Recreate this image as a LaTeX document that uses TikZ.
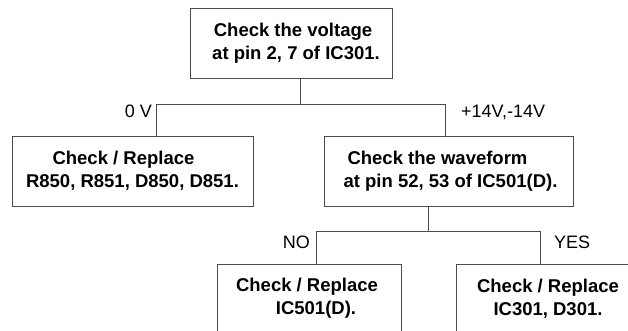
\documentclass[tikz,border=0pt]{standalone}
\usepackage{fontspec}
\setmainfont{Liberation Sans}
\begin{document}
\begin{tikzpicture}[x=1pt,y=-1pt,
  box/.style={draw=black!70, line width=0.9pt, inner sep=0pt, align=center,
    font=\fontsize{18.5}{23}\selectfont\bfseries},
  wire/.style={draw=black!70, line width=0.9pt},
  lbl/.style={inner sep=0pt, font=\fontsize{18}{22}\selectfont}]
\useasboundingbox (0,0) rectangle (628,331);
\clip (0,0) rectangle (628,331);
\node[box, minimum width=202pt, minimum height=70pt] (top) at (291,43)
  {\hspace*{4pt}Check the voltage\\\hspace*{10pt}at pin 2, 7 of IC301.};
\node[box, minimum width=241pt, minimum height=70pt] (left) at (132.5,171)
  {\hspace*{-18pt}Check / Replace\\R850, R851, D850, D851.};
\node[box, minimum width=249pt, minimum height=70pt] (right) at (448.5,171)
  {\hspace*{-22pt}Check the waveform\\\hspace*{4pt}at pin 52, 53 of IC501(D).};
\node[box, minimum width=184pt, minimum height=69pt] (bl) at (309,298.5)
  {\hspace*{-4pt}Check / Replace\\\hspace*{14pt}IC501(D).};
\node[box, minimum width=184pt, minimum height=69pt] (br) at (548,298.5)
  {Check / Replace\\IC301, D301.};
\coordinate (j1) at (300,104);
\coordinate (jl) at (156,104);
\coordinate (jr) at (445,104);
\coordinate (j2) at (428,231);
\coordinate (kl) at (316,231);
\coordinate (kr) at (540,231);
\draw[wire] (top.south -| j1) -- (j1);
\draw[wire] (left.north -| jl) -- (jl) -- (jr) -- (right.north -| jr);
\draw[wire] (right.south -| j2) -- (j2);
\draw[wire] (bl.north -| kl) -- (kl) -- (kr) -- (br.north -| kr);
\node[lbl, anchor=base east] (l0) at (152,118) {0 V};
\node[lbl, anchor=base west] (l14) at (461,118) {+14V,-14V};
\node[lbl, anchor=base east] (lno) at (310,248) {NO};
\node[lbl, anchor=base west] (lyes) at (554,248) {YES};
\end{tikzpicture}
\end{document}
